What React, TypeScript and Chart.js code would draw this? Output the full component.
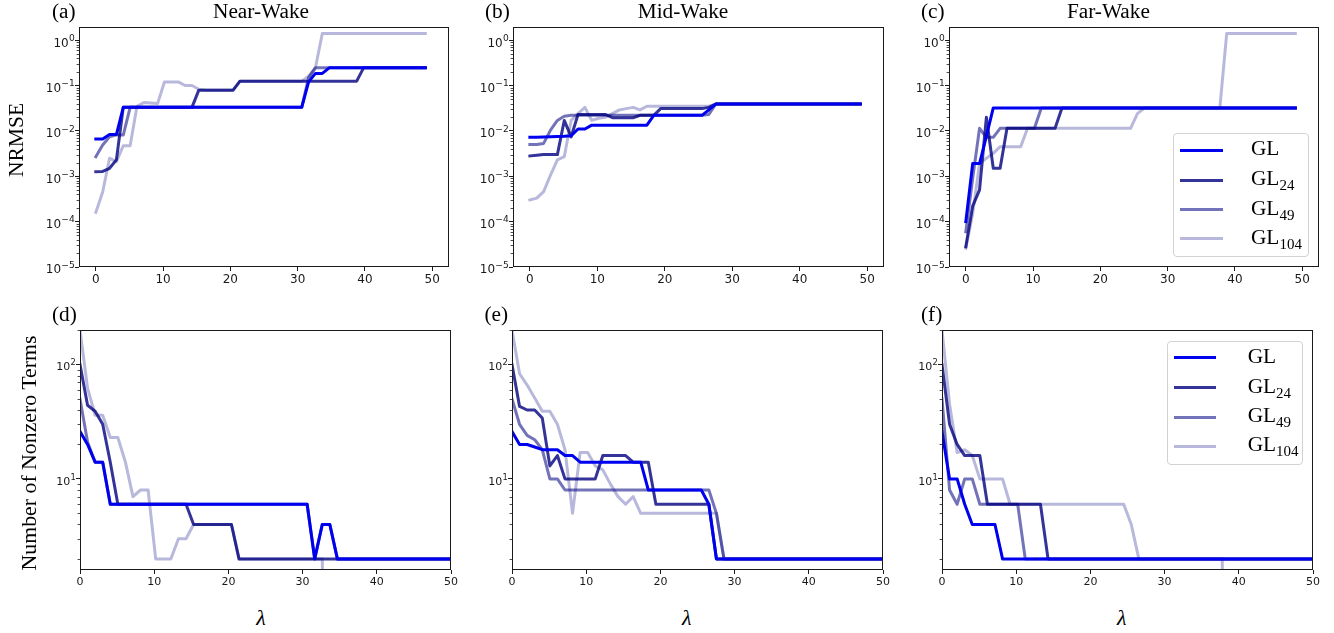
import React, { useEffect, useRef } from 'react';
import { Chart, registerables } from 'chart.js';

Chart.register(...registerables);

// ---------------- data ----------------
// regularisation parameter values (50 evenly spaced values on [0, 50])
const LAMBDA = [
  0, 1.02, 2.04, 3.06, 4.08, 5.1, 6.12, 7.14, 8.16, 9.18,
  10.2, 11.22, 12.24, 13.27, 14.29, 15.31, 16.33, 17.35, 18.37, 19.39,
  20.41, 21.43, 22.45, 23.47, 24.49, 25.51, 26.53, 27.55, 28.57, 29.59,
  30.61, 31.63, 32.65, 33.67, 34.69, 35.71, 36.73, 37.76, 38.78, 39.8,
  40.82, 41.84, 42.86, 43.88, 44.9, 45.92, 46.94, 47.96, 48.98, 50,
];

const SERIES_LABELS = ['GL', 'GL24', 'GL49', 'GL104'];
const LINE_COLORS = ['rgb(0,0,240)', 'rgba(0,0,128,0.8)', 'rgba(0,0,128,0.55)', 'rgba(0,0,128,0.28)'];
const X_TICKS = [0, 10, 20, 30, 40, 50];
const NRMSE_TICKS = [1e-5, 1e-4, 1e-3, 1e-2, 1e-1, 1];
const TERMS_TICKS = [10, 100];
const NRMSE_RANGE = [1e-5, 1.95];
const TERMS_RANGE = [1.6, 200];
const COLUMN_TITLES = ['Near-Wake', 'Mid-Wake', 'Far-Wake'];
const PANEL_LETTERS = ['(a)', '(b)', '(c)', '(d)', '(e)', '(f)'];
const NRMSE_LABEL = 'NRMSE';
const TERMS_LABEL = 'Number of Nonzero Terms';
const X_LABEL = 'λ';

// ---- NRMSE (top row), 49 values each ----
const NEAR_NRMSE_GL = [
  0.0066, 0.0066, 0.0083, 0.0083, 0.033, 0.033, 0.033, 0.033, 0.033, 0.033,
  0.033, 0.033, 0.033, 0.033, 0.033, 0.033, 0.033, 0.033, 0.033, 0.033,
  0.033, 0.033, 0.033, 0.033, 0.033, 0.033, 0.033, 0.033, 0.033, 0.033,
  0.033, 0.12, 0.185, 0.185, 0.245, 0.245, 0.245, 0.245, 0.245, 0.245,
  0.245, 0.245, 0.245, 0.245, 0.245, 0.245, 0.245, 0.245, 0.245,
];
const NEAR_NRMSE_GL24 = [
  0.00126, 0.00128, 0.0015, 0.0023, 0.033, 0.033, 0.033, 0.033, 0.033, 0.033,
  0.033, 0.033, 0.033, 0.033, 0.033, 0.079, 0.079, 0.079, 0.079, 0.079,
  0.079, 0.125, 0.125, 0.125, 0.125, 0.125, 0.125, 0.125, 0.125, 0.125,
  0.125, 0.125, 0.125, 0.125, 0.125, 0.125, 0.125, 0.125, 0.125, 0.245,
  0.245, 0.245, 0.245, 0.245, 0.245, 0.245, 0.245, 0.245, 0.245,
];
const NEAR_NRMSE_GL49 = [
  0.0027, 0.0049, 0.0074, 0.0082, 0.0081, 0.033, 0.033, 0.033, 0.033, 0.033,
  0.033, 0.033, 0.033, 0.033, 0.033, 0.033, 0.033, 0.033, 0.033, 0.033,
  0.033, 0.033, 0.033, 0.033, 0.033, 0.033, 0.033, 0.033, 0.033, 0.033,
  0.033, 0.15, 0.245, 0.245, 0.245, 0.245, 0.245, 0.245, 0.245, 0.245,
  0.245, 0.245, 0.245, 0.245, 0.245, 0.245, 0.245, 0.245, 0.245,
];
const NEAR_NRMSE_GL104 = [
  0.00016, 0.00045, 0.0025, 0.0021, 0.0047, 0.0047, 0.035, 0.042, 0.041, 0.04,
  0.12, 0.12, 0.12, 0.1, 0.1, 0.083, 0.08, 0.08, 0.08, 0.08,
  0.08, 0.125, 0.125, 0.125, 0.125, 0.125, 0.125, 0.125, 0.125, 0.125,
  0.125, 0.16, 0.25, 1.4, 1.4, 1.4, 1.4, 1.4, 1.4, 1.4,
  1.4, 1.4, 1.4, 1.4, 1.4, 1.4, 1.4, 1.4, 1.4,
];

const MID_NRMSE_GL = [
  0.0072, 0.0072, 0.0073, 0.0074, 0.0075, 0.0076, 0.0078, 0.011, 0.011, 0.0134,
  0.0134, 0.0134, 0.0134, 0.0134, 0.0134, 0.0134, 0.0134, 0.0134, 0.022, 0.022,
  0.022, 0.022, 0.022, 0.022, 0.022, 0.022, 0.029, 0.039, 0.039, 0.039,
  0.039, 0.039, 0.039, 0.039, 0.039, 0.039, 0.039, 0.039, 0.039, 0.039,
  0.039, 0.039, 0.039, 0.039, 0.039, 0.039, 0.039, 0.039, 0.039,
];
const MID_NRMSE_GL24 = [
  0.0028, 0.0029, 0.003, 0.003, 0.003, 0.017, 0.0074, 0.023, 0.023, 0.023,
  0.023, 0.023, 0.0195, 0.0195, 0.0195, 0.0195, 0.022, 0.022, 0.022, 0.031,
  0.031, 0.031, 0.031, 0.031, 0.031, 0.031, 0.033, 0.039, 0.039, 0.039,
  0.039, 0.039, 0.039, 0.039, 0.039, 0.039, 0.039, 0.039, 0.039, 0.039,
  0.039, 0.039, 0.039, 0.039, 0.039, 0.039, 0.039, 0.039, 0.039,
];
const MID_NRMSE_GL49 = [
  0.005, 0.005, 0.0053, 0.0104, 0.017, 0.021, 0.022, 0.022, 0.022, 0.022,
  0.022, 0.022, 0.022, 0.022, 0.022, 0.022, 0.022, 0.022, 0.022, 0.022,
  0.022, 0.022, 0.022, 0.022, 0.022, 0.022, 0.023, 0.039, 0.039, 0.039,
  0.039, 0.039, 0.039, 0.039, 0.039, 0.039, 0.039, 0.039, 0.039, 0.039,
  0.039, 0.039, 0.039, 0.039, 0.039, 0.039, 0.039, 0.039, 0.039,
];
const MID_NRMSE_GL104 = [
  0.0003, 0.00033, 0.00046, 0.00106, 0.0023, 0.0027, 0.017, 0.024, 0.033, 0.017,
  0.019, 0.02, 0.024, 0.029, 0.031, 0.033, 0.029, 0.035, 0.035, 0.035,
  0.035, 0.035, 0.035, 0.035, 0.035, 0.035, 0.035, 0.039, 0.039, 0.039,
  0.039, 0.039, 0.039, 0.039, 0.039, 0.039, 0.039, 0.039, 0.039, 0.039,
  0.039, 0.039, 0.039, 0.039, 0.039, 0.039, 0.039, 0.039, 0.039,
];

const FAR_NRMSE_GL = [
  0.0001, 0.0019, 0.0019, 0.0077, 0.032, 0.032, 0.032, 0.032, 0.032, 0.032,
  0.032, 0.032, 0.032, 0.032, 0.032, 0.032, 0.032, 0.032, 0.032, 0.032,
  0.032, 0.032, 0.032, 0.032, 0.032, 0.032, 0.032, 0.032, 0.032, 0.032,
  0.032, 0.032, 0.032, 0.032, 0.032, 0.032, 0.032, 0.032, 0.032, 0.032,
  0.032, 0.032, 0.032, 0.032, 0.032, 0.032, 0.032, 0.032, 0.032,
];
const FAR_NRMSE_GL24 = [
  0.000028, 0.00022, 0.0005, 0.02, 0.0015, 0.0015, 0.0114, 0.0114, 0.0114, 0.0114,
  0.0114, 0.0114, 0.0114, 0.0114, 0.032, 0.032, 0.032, 0.032, 0.032, 0.032,
  0.032, 0.032, 0.032, 0.032, 0.032, 0.032, 0.032, 0.032, 0.032, 0.032,
  0.032, 0.032, 0.032, 0.032, 0.032, 0.032, 0.032, 0.032, 0.032, 0.032,
  0.032, 0.032, 0.032, 0.032, 0.032, 0.032, 0.032, 0.032, 0.032,
];
const FAR_NRMSE_GL49 = [
  0.00006, 0.0009, 0.0114, 0.0072, 0.0072, 0.0114, 0.0114, 0.0114, 0.0114, 0.0114,
  0.0114, 0.032, 0.032, 0.032, 0.032, 0.032, 0.032, 0.032, 0.032, 0.032,
  0.032, 0.032, 0.032, 0.032, 0.032, 0.032, 0.032, 0.032, 0.032, 0.032,
  0.032, 0.032, 0.032, 0.032, 0.032, 0.032, 0.032, 0.032, 0.032, 0.032,
  0.032, 0.032, 0.032, 0.032, 0.032, 0.032, 0.032, 0.032, 0.032,
];
const FAR_NRMSE_GL104 = [
  0.000026, 0.00015, 0.0019, 0.0025, 0.0032, 0.0045, 0.0045, 0.0045, 0.0045, 0.0114,
  0.0114, 0.0114, 0.0114, 0.0114, 0.0114, 0.0114, 0.0114, 0.0114, 0.0114, 0.0114,
  0.0114, 0.0114, 0.0114, 0.0114, 0.0114, 0.024, 0.032, 0.032, 0.032, 0.032,
  0.032, 0.032, 0.032, 0.032, 0.032, 0.032, 0.032, 0.032, 1.4, 1.4,
  1.4, 1.4, 1.4, 1.4, 1.4, 1.4, 1.4, 1.4, 1.4,
];

// ---- number of nonzero terms (bottom row), 50 values each ----
const NEAR_TERMS_GL = [
  26, 20, 14, 14, 6, 6, 6, 6, 6, 6,
  6, 6, 6, 6, 6, 6, 6, 6, 6, 6,
  6, 6, 6, 6, 6, 6, 6, 6, 6, 6,
  6, 2, 4, 4, 2, 2, 2, 2, 2, 2,
  2, 2, 2, 2, 2, 2, 2, 2, 2, 2,
];
const NEAR_TERMS_GL24 = [
  100, 44, 39, 30, 14, 6, 6, 6, 6, 6,
  6, 6, 6, 6, 6, 4, 4, 4, 4, 4,
  4, 2, 2, 2, 2, 2, 2, 2, 2, 2,
  2, 2, 2, 2, 2, 2, 2, 2, 2, 2,
  2, 2, 2, 2, 2, 2, 2, 2, 2, 2,
];
const NEAR_TERMS_GL49 = [
  50, 21, 14, 14, 6, 6, 6, 6, 6, 6,
  6, 6, 6, 6, 6, 6, 6, 6, 6, 6,
  6, 6, 6, 6, 6, 6, 6, 6, 6, 6,
  6, 2, 4, 4, 2, 2, 2, 2, 2, 2,
  2, 2, 2, 2, 2, 2, 2, 2, 2, 2,
];
const NEAR_TERMS_GL104 = [
  200, 62, 36, 36, 23, 23, 14, 7, 8, 8,
  2, 2, 2, 3, 3, 4, 4, 4, 4, 4,
  4, 2, 2, 2, 2, 2, 2, 2, 2, 2,
  2, 2, 2, 0, 0, 0, 0, 0, 0, 0,
  0, 0, 0, 0, 0, 0, 0, 0, 0, 0,
];

const MID_TERMS_GL = [
  26, 20, 20, 19, 18, 18, 18, 16, 16, 14,
  14, 14, 14, 14, 14, 14, 14, 14, 8, 8,
  8, 8, 8, 8, 8, 8, 6, 2, 2, 2,
  2, 2, 2, 2, 2, 2, 2, 2, 2, 2,
  2, 2, 2, 2, 2, 2, 2, 2, 2, 2,
];
const MID_TERMS_GL24 = [
  100, 43, 40, 40, 34, 13, 16, 10, 10, 10,
  10, 10, 16, 16, 16, 16, 14, 14, 14, 6,
  6, 6, 6, 6, 6, 6, 6, 2, 2, 2,
  2, 2, 2, 2, 2, 2, 2, 2, 2, 2,
  2, 2, 2, 2, 2, 2, 2, 2, 2, 2,
];
const MID_TERMS_GL49 = [
  50, 30, 24, 22, 18, 10, 10, 8, 8, 8,
  8, 8, 8, 8, 8, 8, 8, 8, 8, 8,
  8, 8, 8, 8, 8, 8, 8, 5, 2, 2,
  2, 2, 2, 2, 2, 2, 2, 2, 2, 2,
  2, 2, 2, 2, 2, 2, 2, 2, 2, 2,
];
const MID_TERMS_GL104 = [
  200, 83, 66, 51, 39, 39, 30, 18, 5, 17,
  17, 13, 12, 9, 7, 6, 7, 5, 5, 5,
  5, 5, 5, 5, 5, 5, 5, 5, 2, 2,
  2, 2, 2, 2, 2, 2, 2, 2, 2, 2,
  2, 2, 2, 2, 2, 2, 2, 2, 2, 2,
];

const FAR_TERMS_GL = [
  26, 10, 10, 6, 4, 4, 4, 4, 2, 2,
  2, 2, 2, 2, 2, 2, 2, 2, 2, 2,
  2, 2, 2, 2, 2, 2, 2, 2, 2, 2,
  2, 2, 2, 2, 2, 2, 2, 2, 2, 2,
  2, 2, 2, 2, 2, 2, 2, 2, 2, 2,
];
const FAR_TERMS_GL24 = [
  100, 30, 20, 16, 16, 16, 6, 6, 6, 6,
  6, 6, 6, 6, 2, 2, 2, 2, 2, 2,
  2, 2, 2, 2, 2, 2, 2, 2, 2, 2,
  2, 2, 2, 2, 2, 2, 2, 2, 2, 2,
  2, 2, 2, 2, 2, 2, 2, 2, 2, 2,
];
const FAR_TERMS_GL49 = [
  50, 8, 6, 10, 10, 6, 6, 6, 6, 6,
  6, 2, 2, 2, 2, 2, 2, 2, 2, 2,
  2, 2, 2, 2, 2, 2, 2, 2, 2, 2,
  2, 2, 2, 2, 2, 2, 2, 2, 2, 2,
  2, 2, 2, 2, 2, 2, 2, 2, 2, 2,
];
const FAR_TERMS_GL104 = [
  200, 45, 17, 18, 16, 10, 10, 10, 10, 6,
  6, 6, 6, 6, 6, 6, 6, 6, 6, 6,
  6, 6, 6, 6, 6, 4, 2, 2, 2, 2,
  2, 2, 2, 2, 2, 2, 2, 2, 0, 0,
  0, 0, 0, 0, 0, 0, 0, 0, 0, 0,
];

// ---------------- helpers ----------------
const SERIF = "'Liberation Serif', 'Times New Roman', serif";
const SANS = "'DejaVu Sans', sans-serif";
const INK = '#1a1a1a';

type PanelSpec = {
  series: number[][];
  left: number; top: number; right: number; bottom: number;
  xRange: number[]; yRange: number[]; yTicks: number[]; font: number;
};

const PANELS: PanelSpec[] = [
  { series: [NEAR_NRMSE_GL, NEAR_NRMSE_GL24, NEAR_NRMSE_GL49, NEAR_NRMSE_GL104], left: 79, top: 27, right: 449, bottom: 267, xRange: [-2.5, 52.5], yRange: NRMSE_RANGE, yTicks: NRMSE_TICKS, font: 12 },
  { series: [MID_NRMSE_GL, MID_NRMSE_GL24, MID_NRMSE_GL49, MID_NRMSE_GL104], left: 513, top: 27, right: 884, bottom: 267, xRange: [-2.5, 52.5], yRange: NRMSE_RANGE, yTicks: NRMSE_TICKS, font: 12 },
  { series: [FAR_NRMSE_GL, FAR_NRMSE_GL24, FAR_NRMSE_GL49, FAR_NRMSE_GL104], left: 949, top: 27, right: 1319, bottom: 267, xRange: [-2.5, 52.5], yRange: NRMSE_RANGE, yTicks: NRMSE_TICKS, font: 12 },
  { series: [NEAR_TERMS_GL, NEAR_TERMS_GL24, NEAR_TERMS_GL49, NEAR_TERMS_GL104], left: 80, top: 330, right: 451, bottom: 570, xRange: [0, 50], yRange: TERMS_RANGE, yTicks: TERMS_TICKS, font: 11 },
  { series: [MID_TERMS_GL, MID_TERMS_GL24, MID_TERMS_GL49, MID_TERMS_GL104], left: 512, top: 330, right: 883, bottom: 570, xRange: [0, 50], yRange: TERMS_RANGE, yTicks: TERMS_TICKS, font: 11 },
  { series: [FAR_TERMS_GL, FAR_TERMS_GL24, FAR_TERMS_GL49, FAR_TERMS_GL104], left: 942, top: 330, right: 1313, bottom: 570, xRange: [0, 50], yRange: TERMS_RANGE, yTicks: TERMS_TICKS, font: 11 },
];

const YW = 64;
const PT = 12;
const PR = 14;
const XH = 28;

function minorValues(min: number, max: number) {
  const out: number[] = [];
  for (let e = Math.floor(Math.log10(min)); e <= Math.ceil(Math.log10(max)); e++) {
    for (let k = 2; k <= 9; k++) {
      const v = k * Math.pow(10, e);
      if (v >= min && v <= max) out.push(v);
    }
  }
  return out;
}

function exponentText(v: number) {
  const e = Math.round(Math.log10(v));
  return e < 0 ? '\u2212' + String(-e) : String(e);
}

function PanelChart({ p }: { p: PanelSpec }) {
  const ref = useRef<HTMLCanvasElement>(null);
  const w = p.right - p.left + YW + PR;
  const h = p.bottom - p.top + PT + XH;

  useEffect(() => {
    const minors = minorValues(p.yRange[0], p.yRange[1]);
    const f = p.font;
    const framePlugin = {
      id: 'frameMinor',
      afterDraw(chart: any) {
        const { ctx, chartArea: a, scales } = chart;
        ctx.save();
        // minor log ticks
        ctx.strokeStyle = INK;
        ctx.lineWidth = 0.8;
        for (const v of minors) {
          const y = Math.round(scales.y.getPixelForValue(v)) + 0.5;
          ctx.beginPath();
          ctx.moveTo(a.left - 2.4, y);
          ctx.lineTo(a.left, y);
          ctx.stroke();
        }
        // decade labels "10^n" with a real superscript
        ctx.fillStyle = INK;
        ctx.textBaseline = 'alphabetic';
        ctx.textAlign = 'left';
        const supSize = f * 0.76;
        for (const v of p.yTicks) {
          const y = scales.y.getPixelForValue(v);
          const base = y + f * 0.54;
          ctx.font = `${f}px ${SANS}`;
          const wMain = ctx.measureText('10').width;
          const exp = exponentText(v);
          ctx.font = `${supSize}px ${SANS}`;
          const wExp = ctx.measureText(exp).width;
          const x0 = a.left - 4.5 - wMain - wExp;
          ctx.font = `${f}px ${SANS}`;
          ctx.fillText('10', x0, base);
          ctx.font = `${supSize}px ${SANS}`;
          ctx.fillText(exp, x0 + wMain + 0.3, base - f * 0.47);
        }
        // full box spines
        ctx.lineWidth = 1;
        ctx.strokeRect(a.left + 0.5, a.top + 0.5, a.right - a.left - 1, a.bottom - a.top - 1);
        ctx.restore();
      },
    };
    const tickFont = { family: SANS, size: f };
    const chart = new Chart(ref.current as HTMLCanvasElement, {
      type: 'line',
      data: {
        datasets: p.series.map((s, k) => ({
          label: SERIES_LABELS[k],
          // zero counts are pushed far below the axis (as a log plot clips non-positive values)
          data: s.map((v, i) => ({ x: LAMBDA[i], y: v > 0 ? v : 1e-3 })),
          borderColor: LINE_COLORS[k],
          backgroundColor: LINE_COLORS[k],
          borderWidth: 3,
          pointRadius: 0,
          pointHoverRadius: 0,
          fill: false,
          tension: 0,
          borderJoinStyle: 'round',
          borderCapStyle: 'square',
          clip: 0,
        })),
      },
      options: {
        responsive: false,
        maintainAspectRatio: false,
        animation: false,
        events: [],
        layout: { padding: { left: 0, top: PT, right: PR, bottom: 0 } },
        plugins: { legend: { display: false }, tooltip: { enabled: false }, title: { display: false } },
        scales: {
          x: {
            type: 'linear',
            min: p.xRange[0],
            max: p.xRange[1],
            afterBuildTicks: (ax: any) => { ax.ticks = X_TICKS.map((v) => ({ value: v })); },
            afterFit: (ax: any) => { ax.height = XH; },
            ticks: { font: tickFont, color: INK, padding: 2, autoSkip: false, maxRotation: 0, callback: (v: any) => String(v) },
            grid: { display: true, drawOnChartArea: false, drawTicks: true, tickLength: 4, tickColor: INK, tickWidth: 1 },
            border: { display: false },
          },
          y: {
            type: 'logarithmic',
            min: p.yRange[0],
            max: p.yRange[1],
            afterBuildTicks: (ax: any) => { ax.ticks = p.yTicks.map((v) => ({ value: v, major: true })); },
            afterFit: (ax: any) => { ax.width = YW; },
            ticks: { display: false, autoSkip: false },
            grid: { display: true, drawOnChartArea: false, drawTicks: true, tickLength: 4, tickColor: INK, tickWidth: 1 },
            border: { display: false },
          },
        },
      },
      plugins: [framePlugin],
    } as any);
    return () => chart.destroy();
  }, []);

  return (
    <canvas
      ref={ref}
      width={w}
      height={h}
      style={{ position: 'absolute', left: p.left - YW, top: p.top - PT, width: w, height: h }}
    />
  );
}

function Txt({ x, base, size, children, center = false, italic = false }: any) {
  const top = base - 0.8375 * size;
  const style: any = {
    position: 'absolute',
    top,
    fontFamily: SERIF,
    fontSize: size,
    lineHeight: size + 'px',
    whiteSpace: 'nowrap',
    color: '#000',
    fontStyle: italic ? 'italic' : 'normal',
  };
  if (center) {
    style.left = x - 200;
    style.width = 400;
    style.textAlign = 'center';
  } else {
    style.left = x;
  }
  return <div style={style}>{children}</div>;
}

function VTxt({ cx, cy, size, children }: any) {
  return (
    <div
      style={{
        position: 'absolute', left: cx, top: cy, fontFamily: SERIF, fontSize: size,
        lineHeight: size + 'px', whiteSpace: 'nowrap', color: '#000',
        transform: 'translate(-50%, -50%) rotate(-90deg)',
      }}
    >
      {children}
    </div>
  );
}

const LEGEND_ROWS = [16.3, 46.3, 75.6, 104.6];

function Legend({ left, top, textX }: any) {
  return (
    <div
      style={{
        position: 'absolute', left, top, width: 136, height: 124, boxSizing: 'border-box',
        border: '1px solid #d2d2d2', borderRadius: 4, background: 'rgba(255,255,255,0.85)',
      }}
    >
      {SERIES_LABELS.map((lab, k) => {
        const m = lab.match(/^([A-Z]+)(\d*)$/);
        const base = m ? m[1] : lab;
        const sub = m ? m[2] : '';
        const ry = LEGEND_ROWS[k];
        const size = 21.3;
        return (
          <React.Fragment key={lab}>
            <div style={{ position: 'absolute', left: 6, top: ry - 1.5, width: 42.5, height: 3, background: LINE_COLORS[k] }} />
            <div
              style={{
                position: 'absolute', left: textX, top: ry + 6.5 - 0.8375 * size - 1,
                fontFamily: SERIF, fontSize: size, lineHeight: size + 'px', whiteSpace: 'nowrap', color: '#000',
              }}
            >
              {base}
              {sub ? <span style={{ fontSize: 15, position: 'relative', top: 5 }}>{sub}</span> : null}
            </div>
          </React.Fragment>
        );
      })}
    </div>
  );
}

export default function App() {
  const fs = 21.3;
  return (
    <div style={{ position: 'absolute', left: 0, top: 0, width: 1334, height: 633, background: '#fff', overflow: 'hidden' }}>
      {PANELS.map((p, i) => <PanelChart key={i} p={p} />)}

      <Txt x={52} base={18.5} size={fs}>{PANEL_LETTERS[0]}</Txt>
      <Txt x={485} base={18.5} size={fs}>{PANEL_LETTERS[1]}</Txt>
      <Txt x={921} base={18.5} size={fs}>{PANEL_LETTERS[2]}</Txt>
      <Txt x={52} base={321.5} size={fs}>{PANEL_LETTERS[3]}</Txt>
      <Txt x={484.5} base={321.5} size={fs}>{PANEL_LETTERS[4]}</Txt>
      <Txt x={921} base={321.5} size={fs}>{PANEL_LETTERS[5]}</Txt>

      <Txt x={261} base={18.8} size={fs} center>{COLUMN_TITLES[0]}</Txt>
      <Txt x={683} base={18.8} size={fs} center>{COLUMN_TITLES[1]}</Txt>
      <Txt x={1108.4} base={18.8} size={fs} center>{COLUMN_TITLES[2]}</Txt>

      <VTxt cx={16.7} cy={140} size={21.5}>{NRMSE_LABEL}</VTxt>
      <VTxt cx={30} cy={453} size={21.8}>{TERMS_LABEL}</VTxt>

      <Txt x={261} base={625} size={22} center italic>{X_LABEL}</Txt>
      <Txt x={686.7} base={625} size={22} center italic>{X_LABEL}</Txt>
      <Txt x={1121.7} base={625} size={22} center italic>{X_LABEL}</Txt>

      <Legend left={1173.3} top={133.3} textX={76.7} />
      <Legend left={1166.7} top={340.7} textX={80} />
    </div>
  );
}
